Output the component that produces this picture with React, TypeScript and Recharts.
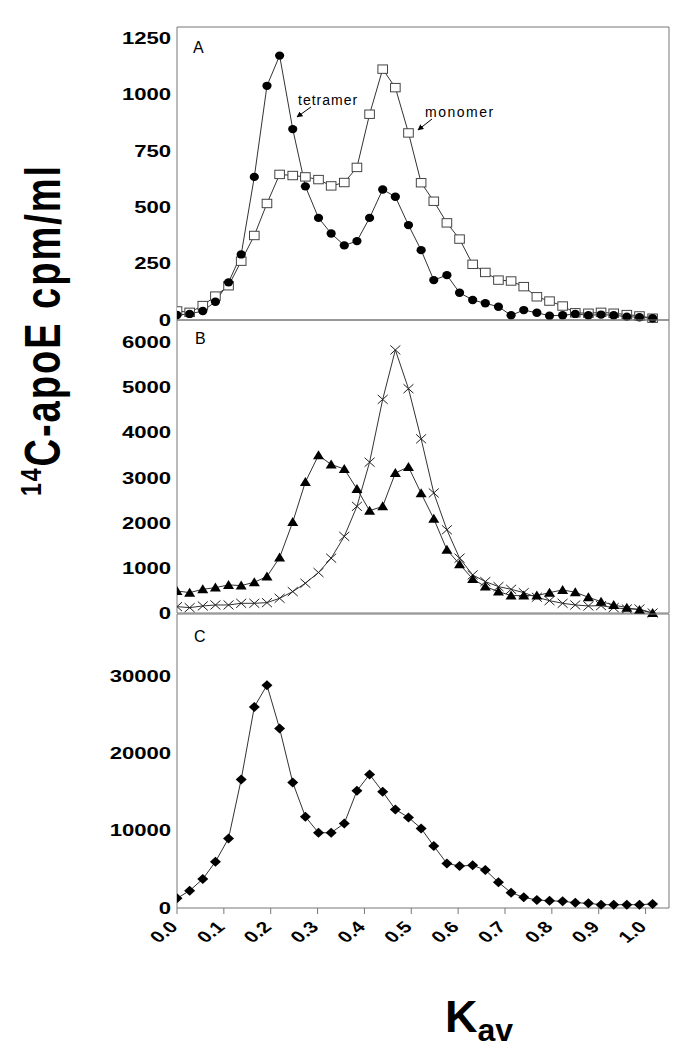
import React from 'react';
import { LineChart, Line, XAxis, YAxis, ReferenceLine } from 'recharts';

// Kav of each collected fraction (same for all three panels)
const kav = [0, 0.027, 0.055, 0.082, 0.11, 0.137, 0.165, 0.192, 0.219, 0.247, 0.274, 0.302, 0.329, 0.357, 0.384, 0.411, 0.439, 0.466, 0.494, 0.521, 0.548, 0.576, 0.603, 0.631, 0.658, 0.686, 0.713, 0.74, 0.768, 0.795, 0.823, 0.85, 0.878, 0.905, 0.932, 0.96, 0.987, 1.015];

// panel A
const tetramer = [22, 27, 40, 81, 167, 291, 635, 1039, 1173, 847, 593, 453, 384, 331, 350, 453, 579, 547, 421, 310, 177, 199, 121, 89, 74, 59, 21, 44, 32, 19, 21, 27, 21, 24, 21, 15, 12, 8];
const monomer = [40, 34, 64, 106, 152, 261, 375, 517, 646, 641, 635, 623, 595, 610, 677, 913, 1113, 1031, 830, 609, 527, 431, 359, 247, 211, 177, 173, 148, 103, 84, 62, 32, 30, 34, 30, 24, 18, 8];

// panel B
const triangles = [489, 452, 526, 563, 623, 608, 682, 808, 1231, 2017, 2907, 3500, 3293, 3196, 2752, 2269, 2366, 3107, 3241, 2655, 2091, 1402, 1083, 756, 586, 475, 386, 386, 386, 452, 512, 460, 349, 252, 178, 119, 67, 0];
const crosses = [141, 119, 156, 178, 178, 215, 215, 230, 326, 475, 660, 898, 1216, 1699, 2366, 3345, 4739, 5836, 4976, 3864, 2663, 1846, 1216, 845, 697, 586, 526, 452, 349, 274, 215, 178, 156, 163, 119, 89, 89, 0];

// panel C
const diamonds = [1248, 2238, 3745, 5983, 8996, 16615, 25995, 28797, 23200, 16227, 11797, 9727, 9727, 10933, 15150, 17260, 15021, 12741, 11709, 10288, 8006, 5767, 5424, 5510, 4907, 3316, 1980, 1377, 1033, 947, 861, 689, 603, 430, 430, 430, 430, 517];

const kavTicks = [0, 0.1, 0.2, 0.3, 0.4, 0.5, 0.6, 0.7, 0.8, 0.9, 1.0];
const ticksA = [0, 250, 500, 750, 1000, 1250];
const ticksB = [0, 1000, 2000, 3000, 4000, 5000, 6000];
const ticksC = [0, 10000, 20000, 30000];

const rowsA = kav.map((k, i) => ({ kav: k, tetramer: tetramer[i], monomer: monomer[i] }));
const rowsB = kav.map((k, i) => ({ kav: k, triangles: triangles[i], crosses: crosses[i] }));
const rowsC = kav.map((k, i) => ({ kav: k, diamonds: diamonds[i] }));

const AXIS = '#777';
const LINE = '#333';
const FONT = '"Liberation Sans", Arial, sans-serif';
const X_MAX = 1.05;

function YTick(props: any) {
  const { x, y, payload } = props;
  return (
    <text transform={`translate(${x},${y}) scale(1.38,1)`} textAnchor="end" dy="0.36em"
      style={{ fontFamily: FONT, fontWeight: 700, fontSize: 16, fill: '#000' }}>
      {payload.value}
    </text>
  );
}

function XTick(props: any) {
  const { x, y, payload } = props;
  return (
    <text transform={`translate(${x + 2},${y + 12}) scale(1.3,1) rotate(-45)`} textAnchor="end"
      style={{ fontFamily: FONT, fontWeight: 700, fontSize: 16, fill: '#000' }}>
      {Number(payload.value).toFixed(1)}
    </text>
  );
}

const circleDot = (p: any) => <ellipse key={p.index} cx={p.cx} cy={p.cy} rx={4.6} ry={4.2} fill="#000" />;
const squareDot = (p: any) => <rect key={p.index} x={p.cx - 4.8} y={p.cy - 4.2} width={9.6} height={8.4} fill="#fff" stroke="#444" strokeWidth={1} />;
const triangleDot = (p: any) => <path key={p.index} d={`M${p.cx},${p.cy - 5} L${p.cx + 5.5},${p.cy + 4} L${p.cx - 5.5},${p.cy + 4} Z`} fill="#000" />;
const crossDot = (p: any) => <path key={p.index} d={`M${p.cx - 5},${p.cy - 4.5} L${p.cx + 5},${p.cy + 4.5} M${p.cx - 5},${p.cy + 4.5} L${p.cx + 5},${p.cy - 4.5}`} stroke="#222" strokeWidth={1} fill="none" />;
const diamondDot = (p: any) => <path key={p.index} d={`M${p.cx},${p.cy - 5} L${p.cx + 5.5},${p.cy} L${p.cx},${p.cy + 5} L${p.cx - 5.5},${p.cy} Z`} fill="#000" />;

function Panel({ rows, top, height, marginTop, xHeight, yMax, yTicks, series, showXLabels }: any) {
  return (
    <div style={{ position: 'absolute', left: 0, top, width: 692, height }}>
      <LineChart width={692} height={height} data={rows} margin={{ top: marginTop, right: 23, bottom: 0, left: 0 }}>
        <XAxis dataKey="kav" type="number" domain={[0, X_MAX]} ticks={kavTicks} allowDataOverflow
          height={xHeight} stroke={AXIS} tickSize={6} tickLine={{ stroke: AXIS }}
          tick={showXLabels ? <XTick /> : false} interval={0} />
        <YAxis type="number" domain={[0, yMax]} ticks={yTicks} width={177} stroke={AXIS}
          tickLine={false} tickSize={4} tickMargin={2} tick={<YTick />} interval={0} />
        <ReferenceLine y={yMax} stroke={AXIS} />
        <ReferenceLine x={X_MAX} stroke={AXIS} />
        {series.map((s: any) => (
          <Line key={s.key} dataKey={s.key} stroke={LINE} strokeWidth={1} dot={s.dot}
            activeDot={false} isAnimationActive={false} />
        ))}
      </LineChart>
    </div>
  );
}

export default function App() {
  return (
    <div style={{ position: 'absolute', left: 0, top: 0, width: 692, height: 1050, background: '#fff' }}>
      <Panel rows={rowsA} top={0} height={340} marginTop={27} xHeight={20} yMax={1300} yTicks={ticksA}
        series={[{ key: 'monomer', dot: squareDot }, { key: 'tetramer', dot: circleDot }]} />
      <Panel rows={rowsB} top={300} height={333} marginTop={20} xHeight={20} yMax={6500} yTicks={ticksB}
        series={[{ key: 'crosses', dot: crossDot }, { key: 'triangles', dot: triangleDot }]} />
      <Panel rows={rowsC} top={594} height={400} marginTop={20} xHeight={86} yMax={38000} yTicks={ticksC}
        series={[{ key: 'diamonds', dot: diamondDot }]} showXLabels />
      <svg width={692} height={1050} style={{ position: 'absolute', left: 0, top: 0, pointerEvents: 'none' }}>
        <defs>
          <marker id="arrowHead" viewBox="0 0 10 10" refX="9" refY="5" markerWidth="6" markerHeight="6" orient="auto">
            <path d="M0,0 L10,5 L0,10 Z" fill="#000" />
          </marker>
        </defs>
        <g style={{ fontFamily: FONT, fill: '#000' }}>
          <text x={193} y={53} fontSize={16}>A</text>
          <text x={195} y={344} fontSize={16}>B</text>
          <text x={194} y={642} fontSize={16}>C</text>
          <text x={298} y={105} fontSize={14} letterSpacing={1}>tetramer</text>
          <text x={425} y={117} fontSize={14} letterSpacing={1.5}>monomer</text>
        </g>
        <line x1={311} y1={107} x2={297} y2={117} stroke="#000" strokeWidth={1} markerEnd="url(#arrowHead)" />
        <line x1={432} y1={119} x2={418} y2={130} stroke="#000" strokeWidth={1} markerEnd="url(#arrowHead)" />
        <text transform="translate(60,330) scale(1.3,1) rotate(-90)" textAnchor="middle"
          style={{ fontFamily: FONT, fontWeight: 700, fontSize: 38, fill: '#000' }} letterSpacing={2}>
          <tspan fontSize={23} dy={-15}>14</tspan>
          <tspan dy={15}>C-apoE cpm/ml</tspan>
        </text>
        <text x={445} y={1032} style={{ fontFamily: FONT, fontWeight: 700, fontSize: 45, fill: '#000' }}>
          K<tspan fontSize={32} dy={9}>av</tspan>
        </text>
      </svg>
    </div>
  );
}
